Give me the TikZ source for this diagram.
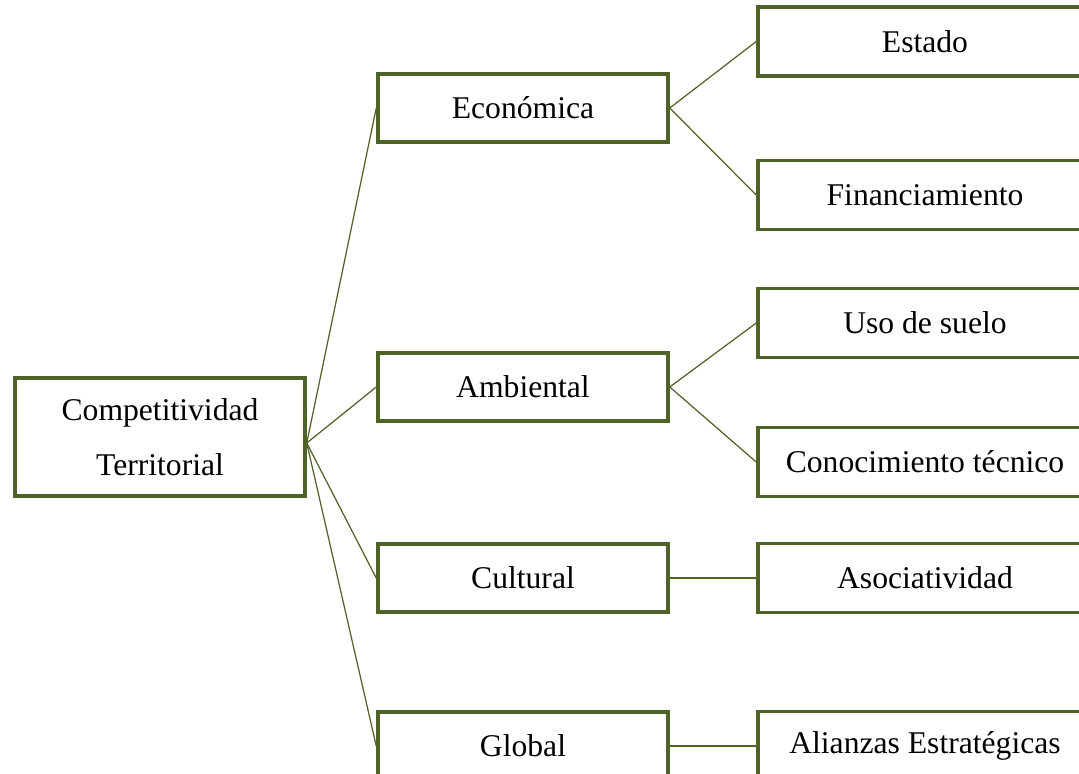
\documentclass[tikz,border=0pt]{standalone}
\usepackage{fontspec}
\setmainfont{Liberation Serif}
\usetikzlibrary{positioning,calc}
\definecolor{boxgreen}{RGB}{79,98,40}

\begin{document}
\begin{tikzpicture}[
    root/.style={draw=boxgreen, line width=2pt, minimum width=5.8cm, minimum height=2.36cm, align=center, font=\fontsize{18}{31}\selectfont},
    mid/.style={draw=boxgreen, line width=2pt, minimum width=5.8cm, minimum height=1.36cm, font=\fontsize{18}{22}\selectfont},
    leaf/.style={draw=boxgreen, line width=2pt, minimum width=6.68cm, minimum height=1.38cm, font=\fontsize{18}{22}\selectfont},
    link/.style={draw=boxgreen, line width=0.7pt}
]

\clip (0,0) rectangle (21.58,-15.46);

% Root
\node[root] (comp) at (3.2, -8.74) {Competitividad\\Territorial};
\coordinate (hub) at ($(comp.east)+(0,-0.12)$);

% Middle column
\node[mid] (eco) at (10.46, -2.16) {Económica};
\node[mid] (amb) at (10.46, -7.74) {Ambiental};
\node[mid] (cul) at (10.46, -11.56) {Cultural};
\node[mid] (glo) at (10.46, -14.92) {Global};

% Right column
\node[leaf] (est) at (18.5, -0.83) {Estado};
\node[leaf] (fin) at (18.5, -3.9) {Financiamiento};
\node[leaf] (uso) at (18.5, -6.46) {Uso de suelo};
\node[leaf] (con) at (18.5, -9.24) {Conocimiento técnico};
\node[leaf] (aso) at (18.5, -11.56) {Asociatividad};
\node[leaf] (ali) at (18.5, -14.92) {Alianzas Estratégicas};

% Connectors
\foreach \m in {eco,amb,cul,glo}
    \draw[link] (hub) -- (\m.west);
\draw[link] (eco.east) -- (est.west);
\draw[link] (eco.east) -- (fin.west);
\draw[link] (amb.east) -- (uso.west);
\draw[link] (amb.east) -- (con.west);
\draw[link] (cul.east) -- (aso.west);
\draw[link] (glo.east) -- (ali.west);

\end{tikzpicture}
\end{document}
